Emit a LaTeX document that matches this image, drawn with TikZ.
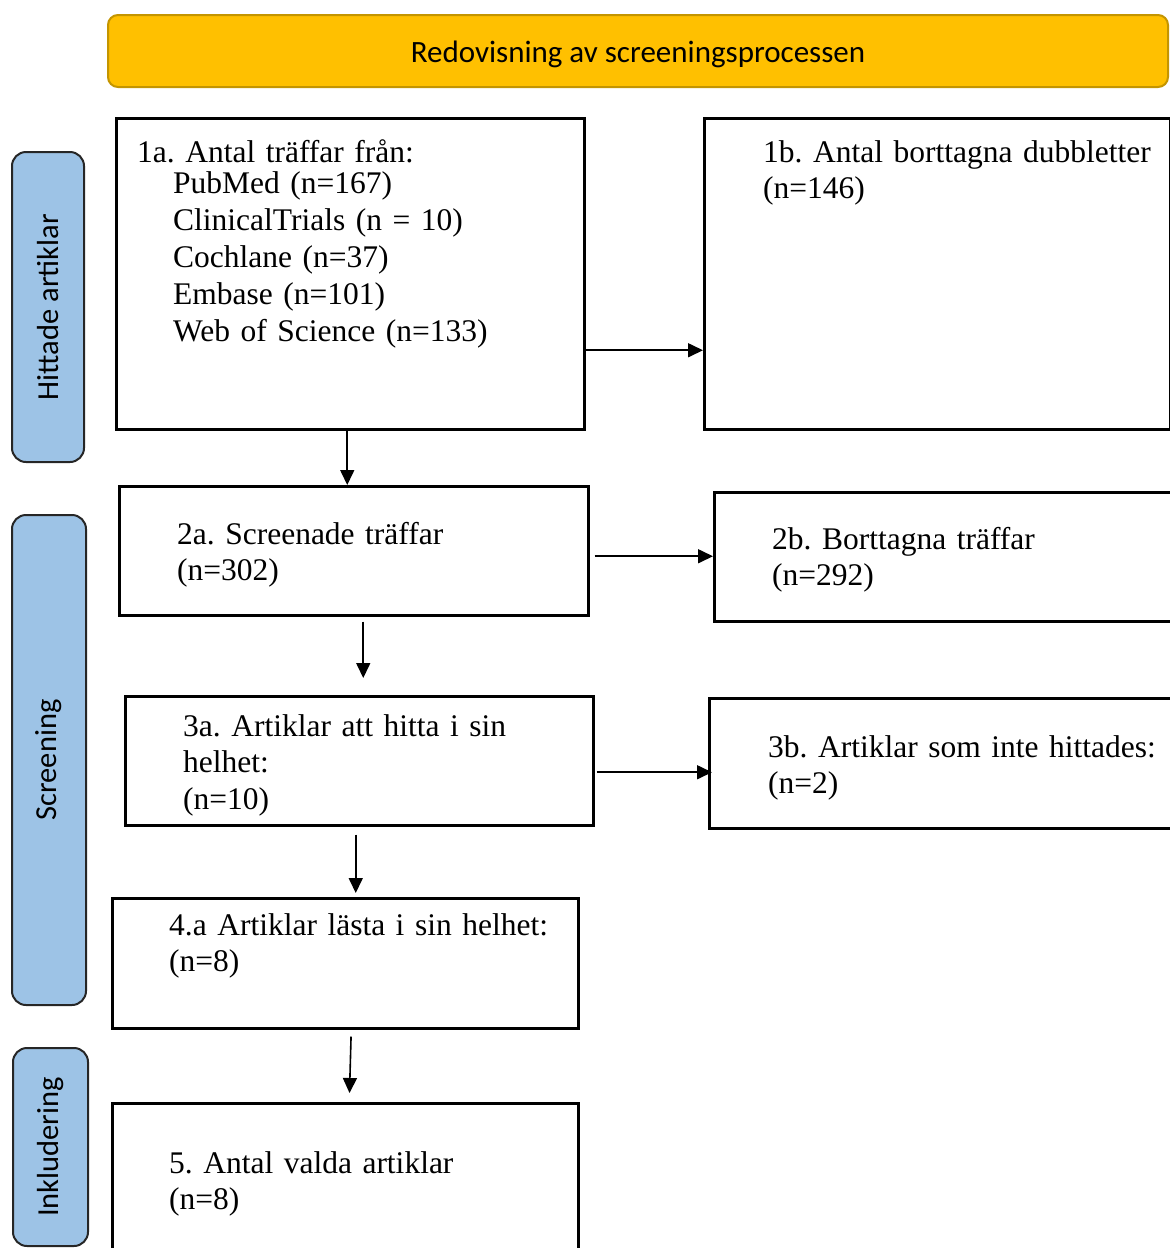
\documentclass[tikz,border=0pt]{standalone}
\usepackage{fontspec}
\setmainfont{Liberation Serif}
\newfontfamily\calibri{Carlito}
\usepackage{tikz}
\usetikzlibrary{arrows.meta}
\frenchspacing

\definecolor{bannerfill}{HTML}{FFC000}
\definecolor{bannerline}{HTML}{C49500}
\definecolor{sidefill}{HTML}{9DC3E6}

\begin{document}
\begin{tikzpicture}[
  x=1pt,y=-1pt,
  banner/.style={draw=bannerline,line width=2pt,rounded corners=10pt,fill=bannerfill,
    minimum width=1060pt,minimum height=72pt,text height=23pt,text depth=1pt,
    font=\calibri\fontsize{31}{36}\selectfont},
  side/.style={draw=black!85,line width=2pt,rounded corners=14pt,fill=sidefill,rotate=90,
    font=\calibri\fontsize{30.5}{36}\selectfont},
  box/.style={draw,line width=2.5pt,anchor=north west,inner sep=0pt},
  txt/.style={anchor=base west,align=left,inner sep=0pt,text width=#1,
    font=\fontsize{31.5}{36.8}\selectfont},
  txt/.default=420pt,
  to/.style={-{Triangle[length=15pt,width=14pt]},line width=1.6pt}]

  \useasboundingbox (0,0) rectangle (1170,1248);

  % Header and the three phase labels on the left
  \node[banner] (banner) at (638,51) {Redovisning av screeningsprocessen};
  \node[side,minimum width=310pt,minimum height=72pt] (hittade) at (48,307) {Hittade artiklar};
  \node[side,minimum width=490pt,minimum height=74pt] (screening) at (49,760) {Screening};
  \node[side,minimum width=198pt,minimum height=75pt] (inkludering) at (50.5,1147) {Inkludering};

  % The boxes
  \node[box,minimum width=468pt,minimum height=311pt] (hits) at (115,117) {};
  \node[box,minimum width=466pt,minimum height=311pt] (dupes) at (703,117) {};
  \node[box,minimum width=469pt,minimum height=129pt] (screened) at (118,485) {};
  \node[box,minimum width=480pt,minimum height=129pt] (removed) at (713,491) {};
  \node[box,minimum width=468pt,minimum height=129pt] (fulltext) at (124,695) {};
  \node[box,minimum width=480pt,minimum height=130pt] (notfound) at (708,697) {};
  \node[box,minimum width=466pt,minimum height=130pt] (read) at (111,897) {};
  \node[box,minimum width=466pt,minimum height=170pt] (chosen) at (111,1102) {};

  % The texts in the boxes
  \node[txt] (hits_txt) at (137,162) {1a. Antal träffar från:\\[-5pt]
    \hspace*{36pt}PubMed (n=167)\\
    \hspace*{36pt}ClinicalTrials (n = 10)\\
    \hspace*{36pt}Cochlane (n=37)\\
    \hspace*{36pt}Embase (n=101)\\
    \hspace*{36pt}Web of Science (n=133)};
  \node[txt=420pt] (dupes_txt) at (763,162) {1b. Antal borttagna dubbletter\\(n=146)};
  \node[txt] (screened_txt) at (177,544) {2a. Screenade träffar\\(n=302)};
  \node[txt] (removed_txt) at (772,549) {2b. Borttagna träffar\\(n=292)};
  \node[txt] (fulltext_txt) at (183,736) {3a. Artiklar att hitta i sin\\helhet:\\(n=10)};
  \node[txt] (notfound_txt) at (768,757) {3b. Artiklar som inte hittades:\\(n=2)};
  \node[txt] (read_txt) at (169,935) {4.a Artiklar lästa i sin helhet:\\(n=8)};
  \node[txt] (chosen_txt) at (169,1173) {5. Antal valda artiklar\\(n=8)};

  % Arrows between the boxes
  \draw[to] ([yshift=-76.5pt]hits.east) -- ([yshift=-76.5pt]dupes.west);
  \draw[to] ([xshift=-3pt]hits.south) -- ([xshift=-6.5pt]screened.north);
  \draw[to,shorten <=5pt] ([yshift=-5.5pt]screened.east) -- ([yshift=0.5pt]removed.west);
  \draw[to,shorten <=5pt,shorten >=17pt] ([xshift=9.5pt]screened.south) -- ([xshift=4pt]fulltext.north);
  \draw[to,shorten <=2pt,shorten >=-4pt] ([yshift=-11.5pt]fulltext.east) -- ([yshift=-9pt]notfound.west);
  \draw[to,shorten <=8pt,shorten >=4pt] ([xshift=-3.5pt]fulltext.south) -- ([xshift=10.5pt]read.north);
  \draw[to,shorten <=7pt,shorten >=9pt] ([xshift=6pt]read.south) -- ([xshift=4pt]chosen.north);
\end{tikzpicture}
\end{document}
